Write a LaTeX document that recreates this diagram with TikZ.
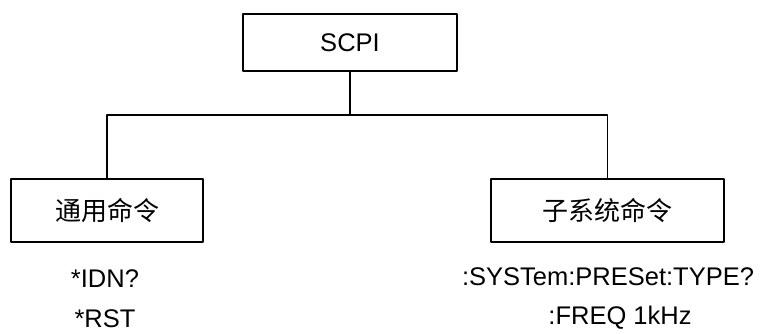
\documentclass[tikz,border=0pt]{standalone}
\usepackage{fontspec}
\setmainfont{Liberation Sans}
\newfontfamily\cjk{Noto Sans CJK SC}
\newcommand{\zh}[1]{{\fontsize{26}{30}\selectfont\cjk #1}}
\begin{document}
\begin{tikzpicture}[x=1pt,y=-1pt,line join=round,font=\fontsize{25.5}{30}\selectfont,
    box/.style={draw,line width=1.5pt,inner sep=0pt},
    cmd/.style={inner sep=0pt}]
    \useasboundingbox (0,0) rectangle (760,334);
    % tree of command groups
    \node[box,minimum width=214pt,minimum height=57pt] (scpi) at (350,42.5) {SCPI};
    \node[box,minimum width=192pt,minimum height=63pt] (common) at (107,210.5) {\zh{通用命令}};
    \node[box,minimum width=233pt,minimum height=63pt] (subsys) at (607.5,210.5) {\zh{子系统命令}};
    \coordinate (bus) at (350,115);
    \draw[line width=1.5pt] (scpi.south) -- (bus) -| (common.north);
    \draw[line width=1.5pt] (bus) -| (subsys.north);
    % example commands
    \node[cmd] (idn) at (105,279) {*IDN?};
    \node[cmd] (rst) at (105,319) {*RST};
    \node[cmd] (preset) at (608,277) {:SYSTem:PRESet:TYPE?};
    \node[cmd] (freq) at (620,318) {:FREQ 1kHz};
\end{tikzpicture}
\end{document}
